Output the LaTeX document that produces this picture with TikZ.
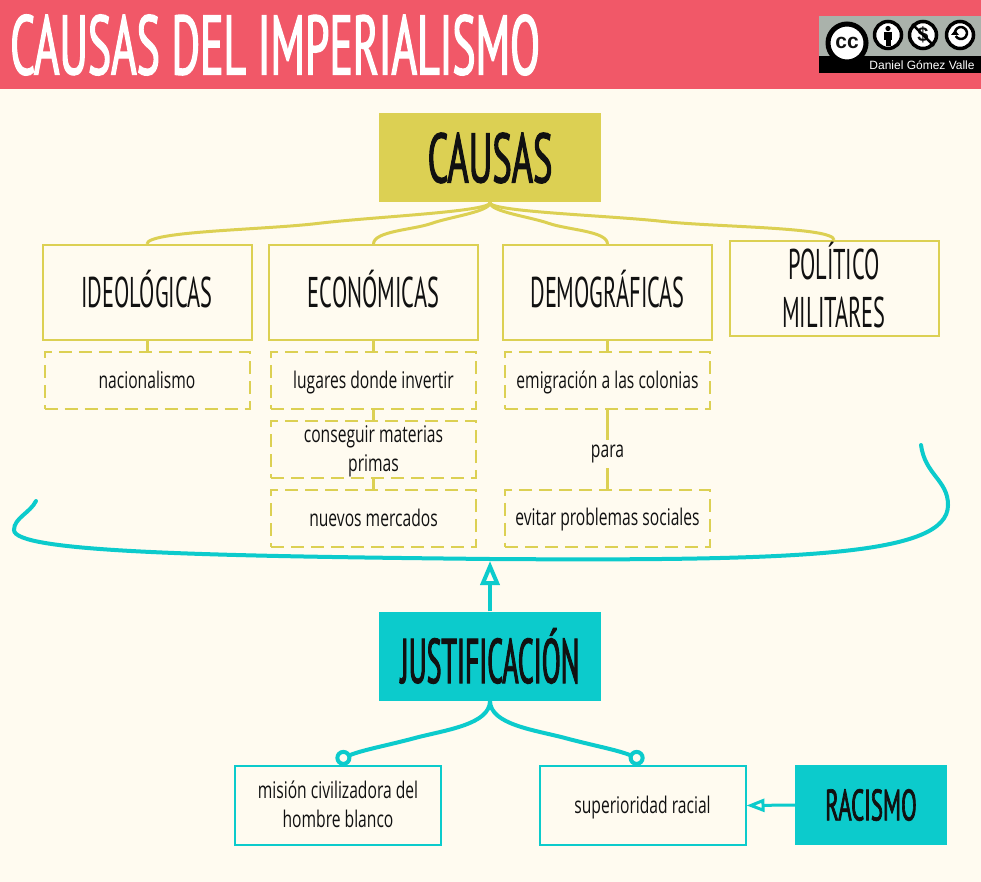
\documentclass[tikz,border=0pt]{standalone}
\usepackage{fontspec}
\usepackage{xcolor}
\usepackage{tikz}
\usetikzlibrary{arrows.meta,positioning,calc}
\newfontfamily\bodyfont[FakeStretch=0.68]{Open Sans}
\newfontfamily\headfont[FakeStretch=0.52]{PT Sans}
\newfontfamily\titlefont[FakeStretch=0.52,FakeBold=1.5]{PT Sans}
\newfontfamily\narrowfont[FakeStretch=0.44,FakeBold=1.5]{PT Sans}
\newfontfamily\badgefont{Liberation Sans}
\definecolor{paper}{HTML}{FFFBF0}
\definecolor{coral}{HTML}{F15868}
\definecolor{mustard}{HTML}{DCD053}
\definecolor{turq}{HTML}{0CCBCC}
\definecolor{badge}{HTML}{AAB2AB}
\definecolor{ink}{HTML}{111111}

\begin{document}
\begin{tikzpicture}[x=1pt,y=-1pt,every node/.style={align=center,text=ink,inner sep=0pt},
catbox/.style={draw=mustard,fill=paper,line width=2pt,minimum width=209pt,minimum height=95pt,text depth=8pt,font=\headfont\fontsize{43}{48}\selectfont},
dashbox/.style={draw=mustard,dashed,dash pattern=on 13pt off 7pt,fill=paper,line width=2pt,minimum width=205pt,minimum height=57pt,text depth=2pt,font=\bodyfont\fontsize{23}{29}\selectfont},
turqbox/.style={draw=turq,fill=paper,line width=2pt,minimum width=206pt,minimum height=79pt,text depth=2pt,font=\bodyfont\fontsize{23}{29}\selectfont},
mainbox/.style={minimum width=222pt,minimum height=89pt},
yelline/.style={draw=mustard,line width=3pt},
turline/.style={draw=turq,line width=4pt},
ccring/.style={circle,draw=black,fill=white,line width=3.5pt}]
\useasboundingbox (0,0) rectangle (981,882);
\fill[paper] (0,0) rectangle (981,882);
\fill[coral] (0,0) rectangle (981,89);
\node[anchor=west,text=white,font=\titlefont\fontsize{84}{84}\selectfont] (title) at (10,45) {CAUSAS DEL IMPERIALISMO};

\fill[badge] (819,16) rectangle (981,73);
\fill[black] (819,56) rectangle (981,73);
\node[ccring,line width=5pt,minimum size=38pt,font=\badgefont\bfseries\fontsize{21}{21}\selectfont] (cc) at (847,43) {cc};
\node[ccring,minimum size=27pt] (by) at (888,35) {};
\node[ccring,minimum size=27pt,font=\badgefont\bfseries\fontsize{20}{20}\selectfont] (nc) at (923,35) {\$};
\node[ccring,minimum size=27pt] (sa) at (960,35) {};
\fill[black] (888,28.5) circle (2.6pt);
\fill[black] (884,32) rectangle (892,40);
\fill[black] (885.5,40) rectangle (890.5,46);
\draw[black,line width=2.5pt] (nc.north west) -- (nc.south east);
\draw[black,line width=2.5pt] (955,32) arc[start angle=170,end angle=-150,radius=6pt];
\fill[black] (951,35) -- (959,35) -- (955,30) -- cycle;
\node[text=white,font=\badgefont\fontsize{12}{12}\selectfont] (author) at (922,65) {Daniel Gómez Valle};

\node[fill=mustard,mainbox,font=\titlefont\fontsize{70}{70}\selectfont] (causas) at (490,158) {CAUSAS};
\node[catbox] (ideologicas) at (147,292.5) {IDEOLÓGICAS};
\node[catbox,right=15.5pt of ideologicas] (economicas) {ECONÓMICAS};
\node[catbox,right=23pt of economicas] (demograficas) {DEMOGRÁFICAS};
\node[catbox] (politico) at (834,288.5) {POLÍTICO\\MILITARES};

\node[dashbox,below=10pt of ideologicas] (nacionalismo) {nacionalismo};
\node[dashbox,below=10pt of economicas] (lugares) {lugares donde invertir};
\node[dashbox,below=10pt of lugares] (materias) {conseguir materias\\primas};
\node[dashbox,below=10pt of materias] (mercados) {nuevos mercados};
\node[dashbox,below=10pt of demograficas] (emigracion) {emigración a las colonias};
\node[dashbox] (problemas) at (607.5,518) {evitar problemas sociales};
\node[fill=paper,inner sep=5pt,font=\bodyfont\fontsize{23}{29}\selectfont] (para) at ($(emigracion)!.5!(problemas)+(0,5)$) {para};

\node[fill=turq,mainbox,font=\narrowfont\fontsize{63}{63}\selectfont] (justificacion) at (490,656) {JUSTIFICACIÓN};
\node[turqbox] (mision) at (338,805.5) {misión civilizadora del\\hombre blanco};
\node[turqbox] (superioridad) at (642.5,805.5) {superioridad racial};
\node[fill=turq,minimum width=152pt,minimum height=80pt,font=\titlefont\fontsize{44}{48}\selectfont] (racismo) at (871,805) {RACISMO};

\foreach \cat in {ideologicas,economicas,demograficas,politico}
\draw[yelline] (causas.south) .. controls +(0,9) and +($.16*(causas.south)-.16*(\cat.north)$) .. ($(causas.south)!.5!(\cat.north)$) .. controls +($.16*(\cat.north)-.16*(causas.south)$) and +(0,-13) .. (\cat.north);
\draw[yelline] (ideologicas)--(nacionalismo);
\draw[yelline] (economicas)--(lugares);
\draw[yelline] (lugares)--(materias);
\draw[yelline] (materias)--(mercados);
\draw[yelline] (demograficas)--(emigracion);
\draw[yelline] (emigracion)--(para);
\draw[yelline] (para)--(problemas);

\coordinate (curveL) at (36,501);
\coordinate (curveM) at (490,559);
\coordinate (curveR) at (921,445);
\draw[turline,line cap=round] (curveL) .. controls (30,513) and (14,518) .. (14,530) .. controls (14,552) and (200,556) .. (curveM) .. controls (800,561) and (948,556) .. (948,505) .. controls (948,480) and (925,475) .. (curveR);
\coordinate (curveT) at (490,561);
\draw[turline,-{Triangle[open,length=24pt,width=19pt]}] (justificacion.north)--(curveT);

\coordinate (ringL) at (336,761);
\coordinate (ringR) at (644,761);
\coordinate (bendL) at (415,738);
\coordinate (bendR) at (565,738);
\draw[turline,-{Circle[open,fill=paper,length=16pt,width=16pt]}] (justificacion.south) .. controls +(0,24) and (445,730) .. (bendL) .. controls (385,746) and (362,750) .. (ringL);
\draw[turline,-{Circle[open,fill=paper,length=16pt,width=16pt]}] (justificacion.south) .. controls +(0,24) and (535,730) .. (bendR) .. controls (595,746) and (618,750) .. (ringR);
\draw[draw=turq,line width=3pt,-{Triangle[open,length=18pt,width=13pt]}] (racismo.west)--(superioridad.east);
\end{tikzpicture}
\end{document}
